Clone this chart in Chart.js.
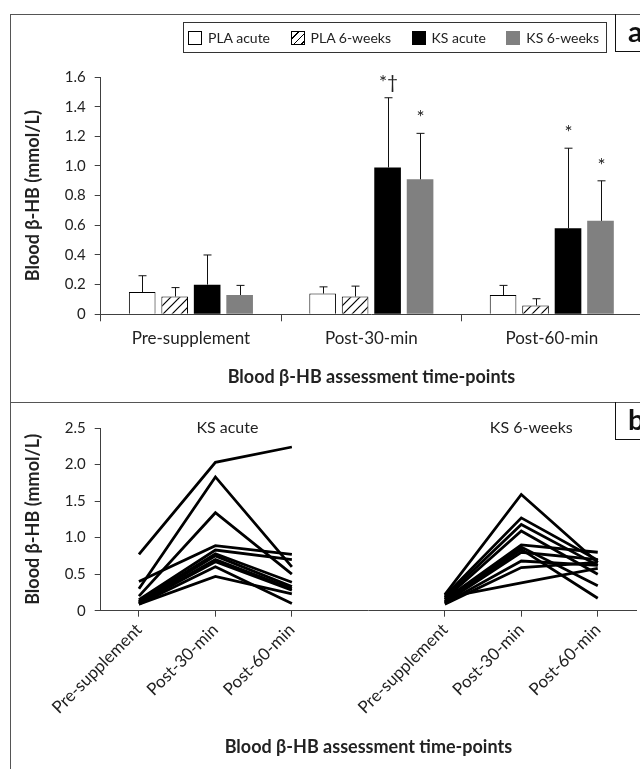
<!DOCTYPE html>
<html lang="en">
<head>
  <meta charset="UTF-8">
  <title>Blood β-HB</title>
  <script src="https://cdn.jsdelivr.net/npm/chart.js"></script>
  <style>
    html, body { margin: 0; padding: 0; background: #fff; }
    body { position: relative; width: 640px; height: 769px; overflow: hidden; font-family: Lato, "Noto Sans", sans-serif; color: #222; }
    canvas { position: absolute; left: 0; }
    .frame { position: absolute; left: 10px; top: 14px; width: 700px; height: 800px; border-left: 1.5px solid #555; border-top: 1.5px solid #555; }
    .sep { position: absolute; left: 10px; top: 402px; width: 700px; border-top: 1.5px solid #555; }
    .tag { position: absolute; left: 615px; width: 40px; height: 38px; box-sizing: border-box; border-left: 1.5px solid #111; border-bottom: 1.5px solid #111; font-weight: bold; font-size: 29px; line-height: 34px; padding-left: 12px; color: #111; }
    .legend { position: absolute; left: 183px; top: 22px; width: 424px; height: 31px; box-sizing: border-box; border: 1px solid #333; display: flex; align-items: center; justify-content: space-between; padding: 0 7px 0 4px; font-size: 14px; }
    .legend span { display: flex; align-items: center; }
    .legend i { display: inline-block; width: 14px; height: 14px; box-sizing: border-box; margin-right: 6px; border: 1px solid #000; }
  </style>
</head>
<body>

  <canvas id="chartA" width="700" height="402" style="top:0"></canvas>
  <canvas id="chartB" width="700" height="367" style="top:402px"></canvas>

  <div class="frame"></div>
  <div class="sep"></div>
  <div class="tag" style="top:14px">a</div>
  <div class="tag" style="top:402px">b</div>

  <div class="legend">
    <span><i style="background:#fff"></i>PLA acute</span>
    <span><i style="background:repeating-linear-gradient(135deg,#fff 0 4px,#000 4px 5.3px)"></i>PLA 6-weeks</span>
    <span><i style="background:#000"></i>KS acute</span>
    <span><i style="background:#808080;border-color:#808080"></i>KS 6-weeks</span>
  </div>

  <script>
    // panel a: group means and SD
    const timePoints = ['Pre-supplement', 'Post-30-min', 'Post-60-min'];
    const plaAcute = [0.15, 0.14, 0.13];
    const plaAcuteSd = [0.11, 0.045, 0.065];
    const pla6wk = [0.12, 0.12, 0.06];
    const pla6wkSd = [0.06, 0.07, 0.045];
    const ksAcute = [0.20, 0.99, 0.58];
    const ksAcuteSd = [0.20, 0.47, 0.54];
    const ks6wk = [0.13, 0.91, 0.63];
    const ks6wkSd = [0.065, 0.31, 0.27];
    const ksAcuteSig = ['', '*†', '*'];
    const ks6wkSig = ['', '*', '*'];

    // panel b: individual responses
    const groupNames = ['KS acute', 'KS 6-weeks'];
    const acuteX = [0, 1, 2];
    const weeksX = [4, 5, 6];
    const acutePre = [0.77, 0.30, 0.20, 0.40, 0.15, 0.13, 0.12, 0.11, 0.10, 0.09, 0.09];
    const acute30 = [2.03, 1.83, 1.34, 0.89, 0.83, 0.78, 0.75, 0.70, 0.67, 0.60, 0.47];
    const acute60 = [2.24, 0.60, 0.50, 0.77, 0.70, 0.39, 0.33, 0.30, 0.28, 0.10, 0.23];
    const weeksPre = [0.22, 0.20, 0.18, 0.16, 0.15, 0.13, 0.12, 0.11, 0.10, 0.09, 0.18];
    const weeks30 = [1.59, 1.27, 1.18, 1.09, 0.90, 0.87, 0.84, 0.80, 0.68, 0.59, 0.38];
    const weeks60 = [0.66, 0.69, 0.62, 0.50, 0.80, 0.34, 0.17, 0.70, 0.62, 0.66, 0.58];

    const FONT = 'Lato, "Noto Sans", sans-serif';
    const INK = '#404040';
    Chart.defaults.font.family = FONT;
    Chart.defaults.font.size = 16;
    Chart.defaults.color = '#222';

    function hatch(ctx) {
      const c = document.createElement('canvas');
      c.width = 9; c.height = 9;
      const g = c.getContext('2d');
      g.fillStyle = '#fff';
      g.fillRect(0, 0, 9, 9);
      g.strokeStyle = '#000';
      g.lineWidth = 1.2;
      g.beginPath();
      g.moveTo(-1, 10); g.lineTo(10, -1);
      g.moveTo(-2, 2); g.lineTo(2, -2);
      g.moveTo(7, 11); g.lineTo(11, 7);
      g.stroke();
      return ctx.createPattern(c, 'repeat');
    }

    const errorBars = {
      id: 'errorBars',
      afterDatasetsDraw(chart) {
        const { ctx } = chart;
        const y = chart.scales.y;
        ctx.save();
        ctx.strokeStyle = '#111';
        ctx.lineWidth = 1;
        ctx.fillStyle = '#222';
        ctx.font = '19px ' + FONT;
        ctx.textAlign = 'center';
        ctx.textBaseline = 'alphabetic';
        chart.data.datasets.forEach((ds, i) => {
          chart.getDatasetMeta(i).data.forEach((bar, j) => {
            const top = y.getPixelForValue(ds.data[j] + ds.sd[j]);
            const x = Math.round(bar.x) + 0.5;
            ctx.beginPath();
            ctx.moveTo(x, bar.y);
            ctx.lineTo(x, top);
            ctx.moveTo(x - 4, top);
            ctx.lineTo(x + 4, top);
            ctx.stroke();
            if (ds.sig && ds.sig[j]) ctx.fillText(ds.sig[j], x, top - 9);
          });
        });
        ctx.restore();
      }
    };

    const ctxA = document.getElementById('chartA').getContext('2d');
    new Chart(ctxA, {
      type: 'bar',
      data: {
        labels: timePoints,
        datasets: [
          { label: 'PLA acute', data: plaAcute, sd: plaAcuteSd, backgroundColor: '#fff', borderColor: '#000', borderWidth: 1 },
          { label: 'PLA 6-weeks', data: pla6wk, sd: pla6wkSd, backgroundColor: hatch(ctxA), borderColor: '#000', borderWidth: 1 },
          { label: 'KS acute', data: ksAcute, sd: ksAcuteSd, sig: ksAcuteSig, backgroundColor: '#000' },
          { label: 'KS 6-weeks', data: ks6wk, sd: ks6wkSd, sig: ks6wkSig, backgroundColor: '#808080' }
        ]
      },
      options: {
        responsive: false,
        animation: false,
        devicePixelRatio: 1,
        categoryPercentage: 0.72,
        barPercentage: 0.82,
        layout: { padding: { left: 11, top: 77, right: 58, bottom: 0 } },
        plugins: { legend: { display: false }, tooltip: { enabled: false } },
        scales: {
          x: {
            afterFit: s => { s.height = 87.7; },
            grid: { drawOnChartArea: false, drawTicks: true, tickLength: 7, color: INK },
            border: { color: INK },
            ticks: { padding: 7, font: { size: 17 } },
            title: { display: true, text: 'Blood β-HB assessment time-points', font: { size: 18, weight: 'bold' }, padding: { top: 0, bottom: 14 } }
          },
          y: {
            min: 0, max: 1.6,
            afterFit: s => { s.width = 89.7; },
            grid: { drawOnChartArea: false, drawTicks: true, tickLength: 6, color: INK },
            border: { color: INK },
            ticks: { stepSize: 0.2, padding: 9, font: { size: 15 }, callback: v => v === 0 ? '0' : v.toFixed(1) },
            title: { display: true, text: 'Blood β-HB (mmol/L)', font: { size: 18, weight: 'bold' }, padding: { top: 11, bottom: 0 } }
          }
        }
      },
      plugins: [errorBars]
    });

    const groupTitles = {
      id: 'groupTitles',
      afterDraw(chart) {
        const { ctx, chartArea } = chart;
        const x = chart.scales.x;
        ctx.save();
        ctx.font = '16px ' + FONT;
        ctx.fillStyle = '#222';
        ctx.textAlign = 'center';
        ctx.textBaseline = 'middle';
        ctx.fillText(groupNames[0], x.getPixelForValue(acuteX[1]) + 12, chartArea.top);
        ctx.fillText(groupNames[1], x.getPixelForValue(weeksX[1]) + 10, chartArea.top);
        ctx.restore();
      }
    };

    const lineSets = [];
    acutePre.forEach((v, i) => {
      lineSets.push({ data: [acutePre[i], acute30[i], acute60[i]].map((y, k) => ({ x: acuteX[k], y })) });
    });
    weeksPre.forEach((v, i) => {
      lineSets.push({ data: [weeksPre[i], weeks30[i], weeks60[i]].map((y, k) => ({ x: weeksX[k], y })) });
    });
    lineSets.forEach(ds => Object.assign(ds, { borderColor: '#000', borderWidth: 2.8, pointRadius: 0, tension: 0, fill: false }));

    new Chart(document.getElementById('chartB'), {
      type: 'line',
      data: { datasets: lineSets },
      options: {
        responsive: false,
        animation: false,
        devicePixelRatio: 1,
        layout: { padding: { left: 11, top: 26, right: 64, bottom: 0 } },
        plugins: { legend: { display: false }, tooltip: { enabled: false } },
        scales: {
          x: {
            type: 'linear', min: -0.5, max: 6.5,
            afterFit: s => { s.height = 158.3; },
            afterBuildTicks: s => { s.ticks = acuteX.concat(weeksX).map(value => ({ value })); },
            grid: { drawOnChartArea: false, drawTicks: true, tickLength: 6, color: INK },
            border: { color: INK },
            ticks: { autoSkip: false, minRotation: 45, maxRotation: 45, padding: 3, font: { size: 17 }, callback: v => timePoints[v % 4] },
            title: { display: true, text: 'Blood β-HB assessment time-points', font: { size: 18, weight: 'bold' }, padding: { top: 0, bottom: 11 } }
          },
          y: {
            min: 0, max: 2.5,
            afterFit: s => { s.width = 89.7; },
            grid: { drawOnChartArea: false, drawTicks: true, tickLength: 6, color: INK },
            border: { color: INK },
            ticks: { stepSize: 0.5, padding: 9, font: { size: 15 }, callback: v => v === 0 ? '0' : v.toFixed(1) },
            title: { display: true, text: 'Blood β-HB (mmol/L)', font: { size: 18, weight: 'bold' }, padding: { top: 11, bottom: 0 } }
          }
        }
      },
      plugins: [groupTitles]
    });
  </script>

</body>
</html>
